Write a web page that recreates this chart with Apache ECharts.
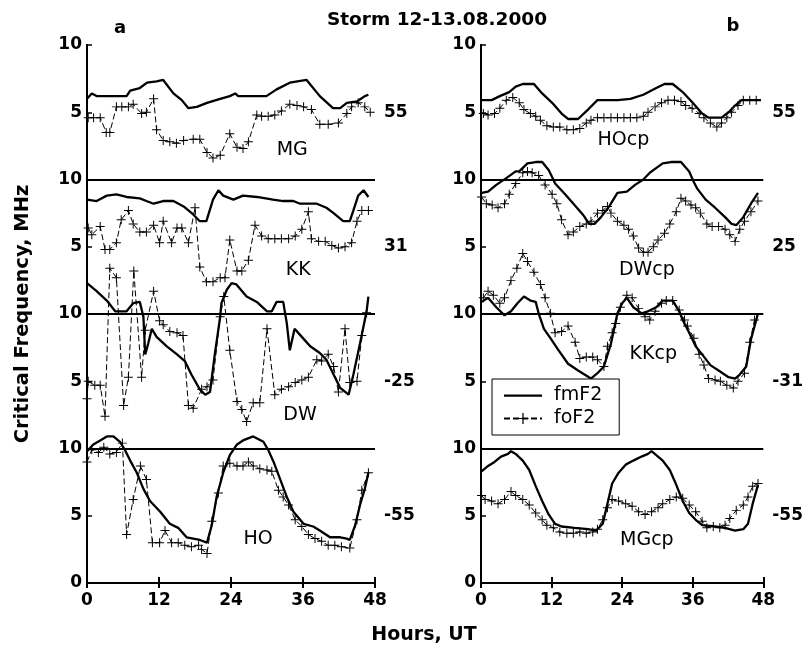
<!DOCTYPE html>
<html><head><meta charset="utf-8">
<script src="https://cdn.jsdelivr.net/npm/echarts@6/dist/echarts.min.js"></script>
<style>html,body{margin:0;padding:0;background:#fff}#c{width:806px;height:651px}</style>
</head><body><div id="c"></div><script>
// ---------- DATA (hours UT, frequency MHz) ----------
const MG_fm = [[0,6.0],[0.8,6.4],[1.6,6.2],[6.6,6.2],[7.2,6.6],[8.8,6.8],[10,7.2],[11.6,7.3],[12.7,7.4],[14.4,6.4],[15.8,5.9],[16.9,5.3],[18.3,5.4],[20,5.7],[22.2,6.0],[23.8,6.2],[24.7,6.4],[25.2,6.2],[26.6,6.2],[29.9,6.2],[31.6,6.7],[33.8,7.2],[36.6,7.4],[38.8,6.2],[41,5.3],[42.2,5.3],[43.3,5.7],[45,5.8],[46.3,6.2],[46.9,6.3]];
const MG_fo = [[0.2,4.6],[1.1,4.6],[2.2,4.6],[3.2,3.5],[3.8,3.5],[4.9,5.4],[5.8,5.4],[6.9,5.4],[7.7,5.6],[9.1,4.9],[9.9,5.0],[11.1,6.0],[11.6,3.7],[12.7,2.9],[13.8,2.8],[14.9,2.7],[16.1,2.9],[17.7,3.0],[18.8,3.0],[20,2.0],[21,1.6],[22.2,1.8],[23.8,3.4],[25,2.4],[26,2.3],[26.9,2.8],[28.3,4.8],[29.1,4.7],[30.2,4.7],[31.3,4.8],[32.4,5.1],[33.8,5.6],[35,5.5],[36.1,5.4],[37.4,5.2],[38.8,4.1],[40.2,4.1],[41.9,4.2],[43.3,4.9],[44.1,5.4],[45.2,5.7],[46.3,5.4],[47.2,5.0]];
const KK_fm = [[0,8.5],[1.6,8.4],[3.3,8.8],[4.9,8.9],[6.6,8.7],[8.8,8.6],[9.9,8.4],[11.1,8.2],[12.7,8.4],[14.4,8.4],[16.1,8.0],[17.7,7.4],[18.8,6.9],[19.9,6.9],[21,8.5],[21.9,9.2],[22.7,8.8],[24.4,8.5],[26,8.8],[28.3,8.7],[31,8.5],[32.7,8.4],[34.4,8.4],[35.5,8.2],[38.3,8.2],[39.9,7.9],[41.1,7.5],[42.7,6.9],[43.8,6.9],[44.4,7.7],[45.2,8.8],[46.1,9.2],[46.9,8.7]];
const KK_fo = [[0.2,6.4],[0.8,5.9],[2.2,6.5],[3,4.8],[3.8,4.8],[4.9,5.3],[5.7,7.0],[6.9,7.7],[7.7,6.7],[8.8,6.1],[9.9,6.1],[11.1,6.6],[12.1,5.3],[12.7,6.9],[14.1,5.3],[15,6.4],[15.8,6.4],[16.9,5.3],[18,7.9],[18.8,3.5],[19.9,2.4],[21,2.4],[22.2,2.7],[23,2.7],[23.8,5.5],[25,3.2],[25.8,3.2],[26.9,4.0],[28,6.6],[29.1,5.8],[30.2,5.6],[31.3,5.6],[32.4,5.6],[33.6,5.6],[34.7,5.8],[35.8,6.3],[36.9,7.6],[37.4,5.6],[38.6,5.4],[39.7,5.4],[40.8,5.1],[41.9,4.9],[43,5.0],[44.1,5.3],[45,6.9],[45.8,7.7],[46.9,7.7]];
const DW_fm = [[0,12.3],[1.6,11.7],[3.3,11.0],[4.7,10.2],[6.6,10.2],[7.7,10.8],[8.8,10.9],[9.4,9.8],[9.7,7.0],[10.2,7.8],[10.8,8.9],[11.6,8.3],[13.3,7.6],[15,7.0],[16.3,6.5],[17.4,5.5],[18.8,4.4],[19.7,4.0],[20.5,4.2],[21.3,7.0],[22.2,9.8],[22.4,10.8],[23.3,11.8],[24.1,12.3],[24.9,12.2],[26.6,11.3],[28.3,10.9],[30,10.2],[30.8,10.2],[31.6,10.9],[32.7,10.9],[33.3,9.3],[33.8,7.3],[34.6,8.9],[35.8,8.3],[37.2,7.6],[38.8,7.1],[39.9,6.6],[41.1,5.5],[42.2,4.5],[43.6,4.0],[44.4,5.5],[45.5,7.8],[46.6,10.2],[46.9,11.3]];
const DW_fo = [[0,3.7],[0.2,5.0],[1.3,4.7],[2.2,4.7],[3,2.4],[3.8,13.4],[4.9,12.7],[6.1,3.2],[6.9,5.3],[7.8,13.2],[9.1,5.3],[9.7,8.8],[11.1,11.7],[12.1,9.5],[12.7,9.2],[13.8,8.7],[15,8.6],[16,8.4],[16.9,3.2],[17.7,3.0],[19.1,4.4],[20,4.6],[21,5.1],[22.2,9.8],[22.8,11.3],[23.8,7.3],[25,3.5],[25.8,2.9],[26.6,2.0],[27.7,3.4],[28.8,3.4],[30,8.9],[31.3,4.0],[32.4,4.4],[33.6,4.6],[34.7,4.9],[35.8,5.1],[36.9,5.3],[38.3,6.6],[39.1,6.5],[40.2,7.0],[41.1,6.1],[41.9,4.2],[43,8.9],[43.8,4.9],[45,5.0],[45.8,8.4],[46.6,10.1]];
const HO_fm = [[0,9.8],[1.05,10.3],[2.2,10.6],[3.3,10.9],[4.4,10.9],[5.5,10.5],[6.3,9.9],[7.2,9.1],[8.3,8.2],[9.4,7.0],[10.5,6.1],[12.2,5.3],[13.8,4.4],[15.2,4.1],[16.6,3.4],[18.8,3.2],[20,3.0],[20.8,4.3],[21.6,6.4],[22.7,8.2],[23.8,9.5],[25,10.3],[26,10.6],[27.7,10.9],[29.4,10.5],[30.2,9.9],[31.1,9.0],[32.2,7.7],[33.3,6.4],[34.4,5.3],[36.1,4.4],[37.7,4.2],[38.8,3.9],[40.5,3.4],[42.2,3.4],[43.3,3.3],[43.8,3.2],[44.7,4.3],[45.5,5.8],[46.3,7.0],[46.9,8.2]];
const HO_fo = [[0,9.0],[0.8,9.9],[1.9,9.7],[2.8,10.1],[3.8,9.6],[4.9,9.7],[5.9,10.4],[6.6,3.6],[7.7,6.2],[8.9,8.7],[9.9,7.7],[10.9,3.0],[12.1,3.0],[13,3.9],[14.1,3.0],[15.2,3.0],[16.3,2.8],[17.4,2.7],[18.6,2.8],[19.1,2.5],[20,2.2],[20.8,4.6],[21.9,6.7],[22.7,8.7],[23.8,8.9],[25,8.7],[26,8.7],[26.9,9.0],[27.7,8.7],[28.8,8.5],[30,8.4],[30.8,8.3],[31.9,6.9],[32.7,6.4],[33.6,5.8],[34.7,4.7],[35.8,4.2],[36.9,3.6],[38,3.3],[39.1,3.1],[40.2,2.8],[41.3,2.8],[42.4,2.7],[43.8,2.6],[45,4.7],[45.8,6.9],[46.9,8.2]];
const HOcp_fm = [[0,5.9],[1.8,5.9],[3.2,6.2],[4.8,6.5],[5.9,6.9],[7.1,7.1],[9,7.1],[10.4,6.4],[12.1,5.7],[13.7,4.9],[14.8,4.5],[16.5,4.5],[18.2,5.2],[19.8,5.9],[23.2,5.9],[25.4,6.0],[27.6,6.3],[29.8,6.8],[31.2,7.1],[32.6,7.1],[34.3,6.5],[36,5.7],[37.6,4.9],[38.7,4.6],[40.9,4.6],[42.1,5.0],[43.2,5.5],[44.3,5.9],[47.6,5.9]];
const HOcp_fo = [[0.4,4.9],[1.2,4.8],[2.3,4.9],[3.2,5.3],[4.3,5.9],[5.4,6.1],[6.5,5.7],[7.3,5.2],[8.4,4.9],[9.3,4.7],[10.1,4.4],[11.2,4.0],[12.3,3.9],[13.4,3.9],[14.6,3.7],[15.7,3.7],[16.8,3.8],[17.9,4.2],[18.7,4.4],[19.8,4.6],[20.9,4.6],[22.1,4.6],[23.2,4.6],[24.3,4.6],[25.4,4.6],[26.5,4.6],[27.6,4.7],[28.4,5.0],[29.6,5.4],[30.7,5.7],[31.8,5.9],[32.9,5.9],[34,5.8],[34.8,5.5],[35.9,5.3],[37.1,4.9],[37.9,4.6],[39,4.2],[40.1,3.9],[40.9,4.2],[41.8,4.6],[42.6,5.0],[43.7,5.5],[44.6,5.9],[45.7,5.9],[46.8,5.9]];
const DWcp_fm = [[0.1,9.0],[1.2,9.1],[2.6,9.6],[4.3,10.1],[5.9,10.6],[6.5,10.6],[7.9,11.2],[9.3,11.3],[10.4,11.3],[11.5,10.7],[12.3,10.0],[12.6,9.7],[14.3,8.9],[15.9,8.1],[17.3,7.4],[18.4,6.7],[19.3,6.7],[20.4,7.2],[21.8,8.0],[23.2,9.0],[24.8,9.1],[26.2,9.6],[27.6,10.0],[28.7,10.5],[29.3,10.7],[30.9,11.2],[32.3,11.3],[34,11.3],[35.4,10.6],[36.2,9.8],[36.8,9.3],[38.2,8.5],[39.8,7.9],[41.5,7.2],[42.6,6.7],[43.4,6.6],[44.6,7.2],[45.9,8.2],[47.1,9.0]];
const DWcp_fo = [[0.1,8.7],[0.9,8.2],[1.9,8.1],[2.9,7.9],[4,8.2],[4.8,8.9],[5.9,9.7],[7.1,10.5],[7.9,10.6],[8.7,10.5],[9.8,10.3],[10.9,9.6],[12.1,8.9],[12.9,8.2],[13.7,7.0],[14.8,5.9],[15.7,6.1],[16.8,6.5],[17.9,6.7],[18.7,6.9],[19.8,7.5],[20.7,7.7],[21.5,8.0],[22.1,7.5],[23.2,6.9],[24.3,6.6],[25.1,6.3],[25.9,5.8],[26.8,4.9],[27.6,4.6],[28.4,4.6],[29.3,5.0],[30.1,5.5],[31.2,6.0],[32.1,6.7],[33.2,7.6],[34,8.6],[34.8,8.4],[35.7,8.1],[36.5,7.9],[37.3,7.5],[38.4,6.7],[39.3,6.5],[40.4,6.5],[41.5,6.3],[42.3,5.9],[43.2,5.4],[44,6.3],[44.8,6.9],[45.9,7.6],[47.1,8.4]];
const KKcp_fm = [[0.1,10.9],[1.2,11.2],[2.6,10.5],[4,9.9],[5.1,10.2],[6.2,10.8],[7.3,11.3],[8.4,11.0],[9.3,10.9],[9.8,10.05],[10.7,8.9],[11.8,8.2],[13.2,7.3],[14.8,6.3],[16.5,5.8],[17.6,5.5],[18.7,5.2],[19.8,5.6],[20.9,6.1],[22.1,7.8],[23.2,10.05],[24,10.8],[24.8,11.2],[25.9,10.5],[27.3,10.05],[28.4,10.2],[29.8,10.5],[30.9,11.0],[32.6,11.0],[33.7,10.2],[34.3,9.55],[35.4,8.6],[36.5,7.6],[37.6,7.0],[39,6.2],[40.4,5.8],[42.1,5.3],[43.2,5.2],[44,5.5],[45.1,6.1],[45.9,8.1],[47.1,10.05]];
const KKcp_fo = [[0.4,11.2],[1.2,11.7],[2.1,11.4],[3.2,10.8],[4,11.2],[5.1,12.5],[6.1,13.4],[7.1,14.5],[7.9,13.9],[9,13.1],[10.1,12.2],[10.9,11.2],[11.8,10.05],[12.6,8.6],[13.7,8.7],[14.8,9.1],[16,7.9],[16.8,6.7],[17.9,6.8],[19,6.8],[19.8,6.6],[20.9,6.1],[21.5,7.6],[22.3,8.6],[22.9,9.3],[23.7,10.5],[24.8,11.4],[25.7,11.2],[26.8,10.4],[27.9,9.8],[28.7,9.55],[29.6,10.2],[30.7,10.8],[31.5,11.0],[32.6,11.0],[33.7,10.3],[34.6,9.55],[35.1,9.1],[36.2,8.2],[37.1,7.0],[37.9,6.2],[38.7,5.2],[39.8,5.1],[40.7,5.0],[41.8,4.7],[42.9,4.5],[43.7,5.0],[44.8,5.6],[45.7,7.9],[46.5,9.55]];
const MGcp_fm = [[0.1,8.3],[1.2,8.7],[2.3,9.0],[3.4,9.4],[4.6,9.6],[5.1,9.8],[5.9,9.6],[7.1,9.1],[8.2,8.4],[9.3,7.2],[10.4,6.1],[11.5,5.1],[12.6,4.4],[13.7,4.2],[15.9,4.1],[18.2,4.0],[19.6,3.9],[20.7,4.4],[21.5,5.9],[22.3,7.4],[23.4,8.2],[24.6,8.8],[25.9,9.1],[27.3,9.4],[28.4,9.6],[29,9.8],[29.8,9.5],[30.9,9.1],[32.1,8.4],[33.2,7.3],[34.3,6.1],[35.4,5.2],[36.5,4.7],[37.6,4.3],[39.8,4.2],[41.5,4.1],[43.2,3.9],[44.6,4.0],[45.4,4.4],[46.2,5.9],[47.1,7.3]];
const MGcp_fo = [[0.1,6.5],[0.7,6.2],[1.8,6.1],[2.9,5.9],[4,6.2],[5.1,6.8],[5.9,6.5],[7.1,6.2],[8.2,5.8],[9.3,5.2],[10.4,4.7],[11.2,4.3],[12.3,4.1],[13.4,3.8],[14.6,3.7],[15.7,3.7],[16.8,3.8],[17.9,3.7],[19,3.8],[19.8,4.0],[20.7,4.7],[21.5,5.6],[22.3,6.2],[23.4,6.1],[24.6,5.9],[25.7,5.7],[26.8,5.3],[27.9,5.1],[29,5.3],[30.1,5.6],[30.9,5.9],[32.1,6.2],[33.2,6.4],[34.3,6.3],[35.4,5.8],[36.5,5.3],[37.6,4.6],[38.4,4.1],[39.5,4.2],[40.6,4.1],[41.5,4.3],[42.3,4.8],[43.4,5.4],[44.6,5.8],[45.4,6.4],[46.2,7.2],[47.1,7.4]];

const stationsA = ['MG','KK','DW','HO'];
const stationsB = ['HOcp','DWcp','KKcp','MGcp'];
const latA = ['55','31','-25','-55'];
const latB = ['55','25','-31','-55'];
const yTickLabels = ['0','5','10','5','10','5','10','5','10'];
const seriesNames = ['fmF2','foF2'];
const titleText = 'Storm 12-13.08.2000';
const yName = 'Critical Frequency, MHz';
const xName = 'Hours, UT';

// ---------- LAYOUT ----------
const offsets = [30,20,10,0];            // stacking offset of each sub-panel
const labelPosA = [[34.2,2.2],[35.2,3.3],[35.5,2.5],[28.5,3.3]];
const labelPosB = [[24.2,2.9],[28.2,3.3],[29.3,7.0],[28.2,3.2]];
const FONT = 'DejaVu Sans';
const plusPath = 'path://M4.45,0H5.55V4.45H10V5.55H5.55V10H4.45V5.55H0V4.45H4.45Z';
const solidIcon = 'path://M0,0L0.01,0Z M0,6H38V8.3H0Z M0,14L0.01,14Z';

const fmData = {MG:MG_fm,KK:KK_fm,DW:DW_fm,HO:HO_fm,HOcp:HOcp_fm,DWcp:DWcp_fm,KKcp:KKcp_fm,MGcp:MGcp_fm};
const foData = {MG:MG_fo,KK:KK_fo,DW:DW_fo,HO:HO_fo,HOcp:HOcp_fo,DWcp:DWcp_fo,KKcp:KKcp_fo,MGcp:MGcp_fo};

const chart = echarts.init(document.getElementById('c'), null, {renderer:'canvas'});

const grids = [
  {left:87, top:45, width:288, height:538},
  {left:481, top:45, width:288, height:538}
];
const xAxes = [], yAxes = [];
[0,1].forEach(g => {
  xAxes.push({gridIndex:g, type:'value', min:0, max:48, interval:12, position:'bottom',
    axisLine:{lineStyle:{color:'#000', width:2}}, axisTick:{inside:true, length:6, lineStyle:{color:'#000', width:2}},
    axisLabel:{color:'#000', fontFamily:FONT, fontWeight:'bold', fontSize:17, margin:9, showMinLabel:true, showMaxLabel:true},
    splitLine:{show:false}});
  xAxes.push({gridIndex:g, type:'value', min:0, max:48, interval:12, position:'top',
    axisLine:{lineStyle:{color:'#000', width:2}}, axisTick:{inside:true, length:5, lineStyle:{color:'#000', width:2}},
    axisLabel:{show:false}, splitLine:{show:false}});
  const lat = g === 0 ? latA : latB;
  yAxes.push({gridIndex:g, type:'value', min:0, max:40, interval:5, position:'left',
    name: g === 0 ? yName : '', nameLocation:'middle', nameRotate:90, nameGap:54,
    nameTextStyle:{color:'#000', fontFamily:FONT, fontWeight:'bold', fontSize:19.5},
    axisLine:{lineStyle:{color:'#000', width:2}}, axisTick:{inside:true, length:5, lineStyle:{color:'#000', width:1.5}},
    axisLabel:{color:'#000', fontFamily:FONT, fontWeight:'bold', fontSize:17, margin:5, showMinLabel:true, showMaxLabel:true,
      formatter: v => yTickLabels[Math.round(v/5)]},
    splitLine:{show:false}});
  yAxes.push({gridIndex:g, type:'value', min:0, max:40, interval:5, position:'right',
    axisLine:{lineStyle:{color:'#000', width:2}}, axisTick:{show:false},
    axisLabel:{color:'#000', fontFamily:FONT, fontWeight:'bold', fontSize:17, margin:9,
      formatter: v => { const k = [35,25,15,5].indexOf(v); return k >= 0 ? lat[k] : ''; }},
    splitLine:{show:false}});
});

const series = [];
[[stationsA, labelPosA],[stationsB, labelPosB]].forEach(([stations, lpos], g) => {
  const xi = g*2, yi = g*2;
  stations.forEach((st, i) => {
    const off = offsets[i];
    series.push({
      name: seriesNames[0], type:'line', xAxisIndex:xi, yAxisIndex:yi,
      data: fmData[st].map(p => [p[0], p[1] + off]),
      showSymbol:false, symbol:'none', lineStyle:{color:'#000', width:2.3}, itemStyle:{color:'#000'},
      animation:false, z:3,
      markLine: i === 0 ? {silent:true, symbol:'none', label:{show:false},
        lineStyle:{color:'#000', width:2, type:'solid'},
        data: offsets.filter(o => o > 0).map(o => ({yAxis:o}))} : undefined
    });
    series.push({
      name: seriesNames[1], type:'line', xAxisIndex:xi, yAxisIndex:yi,
      data: foData[st].map(p => [p[0], p[1] + off]),
      symbol: plusPath, symbolSize:9, showSymbol:true,
      itemStyle:{color:'#000'}, lineStyle:{color:'#000', width:1, type:[6,3]},
      animation:false, z:2
    });
    series.push({
      type:'scatter', xAxisIndex:xi, yAxisIndex:yi, silent:true,
      data:[[lpos[i][0], lpos[i][1] + off, st]], symbolSize:0,
      itemStyle:{color:'#000', opacity:1},
      label:{show:true, position:'inside', formatter: p => p.data[2], color:'#000',
        textBorderWidth:0, fontFamily:FONT, fontSize:19},
      animation:false, z:4
    });
  });
});

chart.setOption({
  animation:false,
  backgroundColor:'#fff',
  grid: grids,
  xAxis: xAxes,
  yAxis: yAxes,
  legend: {data: [{name:seriesNames[0], icon:solidIcon, itemStyle:{color:'#000'}}, {name:seriesNames[1]}],
    left:492, top:379, orient:'vertical', selectedMode:false,
    itemWidth:38, itemHeight:14, itemGap:4, padding:[7,17,7,11],
    borderColor:'#000', borderWidth:1, backgroundColor:'#fff',
    textStyle:{color:'#000', fontFamily:FONT, fontSize:19, lineHeight:19, padding:[0,0,0,7]}},
  graphic: [
    {type:'text', x:437, y:20, style:{text:titleText, font:'bold 18.5px "DejaVu Sans"', fill:'#000', align:'center', verticalAlign:'middle'}},
    {type:'text', x:120, y:28, style:{text:'a', font:'bold 18px "DejaVu Sans"', fill:'#000', align:'center', verticalAlign:'middle'}},
    {type:'text', x:733, y:26, style:{text:'b', font:'bold 18px "DejaVu Sans"', fill:'#000', align:'center', verticalAlign:'middle'}},
    {type:'text', x:424, y:635, style:{text:xName, font:'bold 19px "DejaVu Sans"', fill:'#000', align:'center', verticalAlign:'middle'}}
  ],
  series: series
});
</script></body></html>
